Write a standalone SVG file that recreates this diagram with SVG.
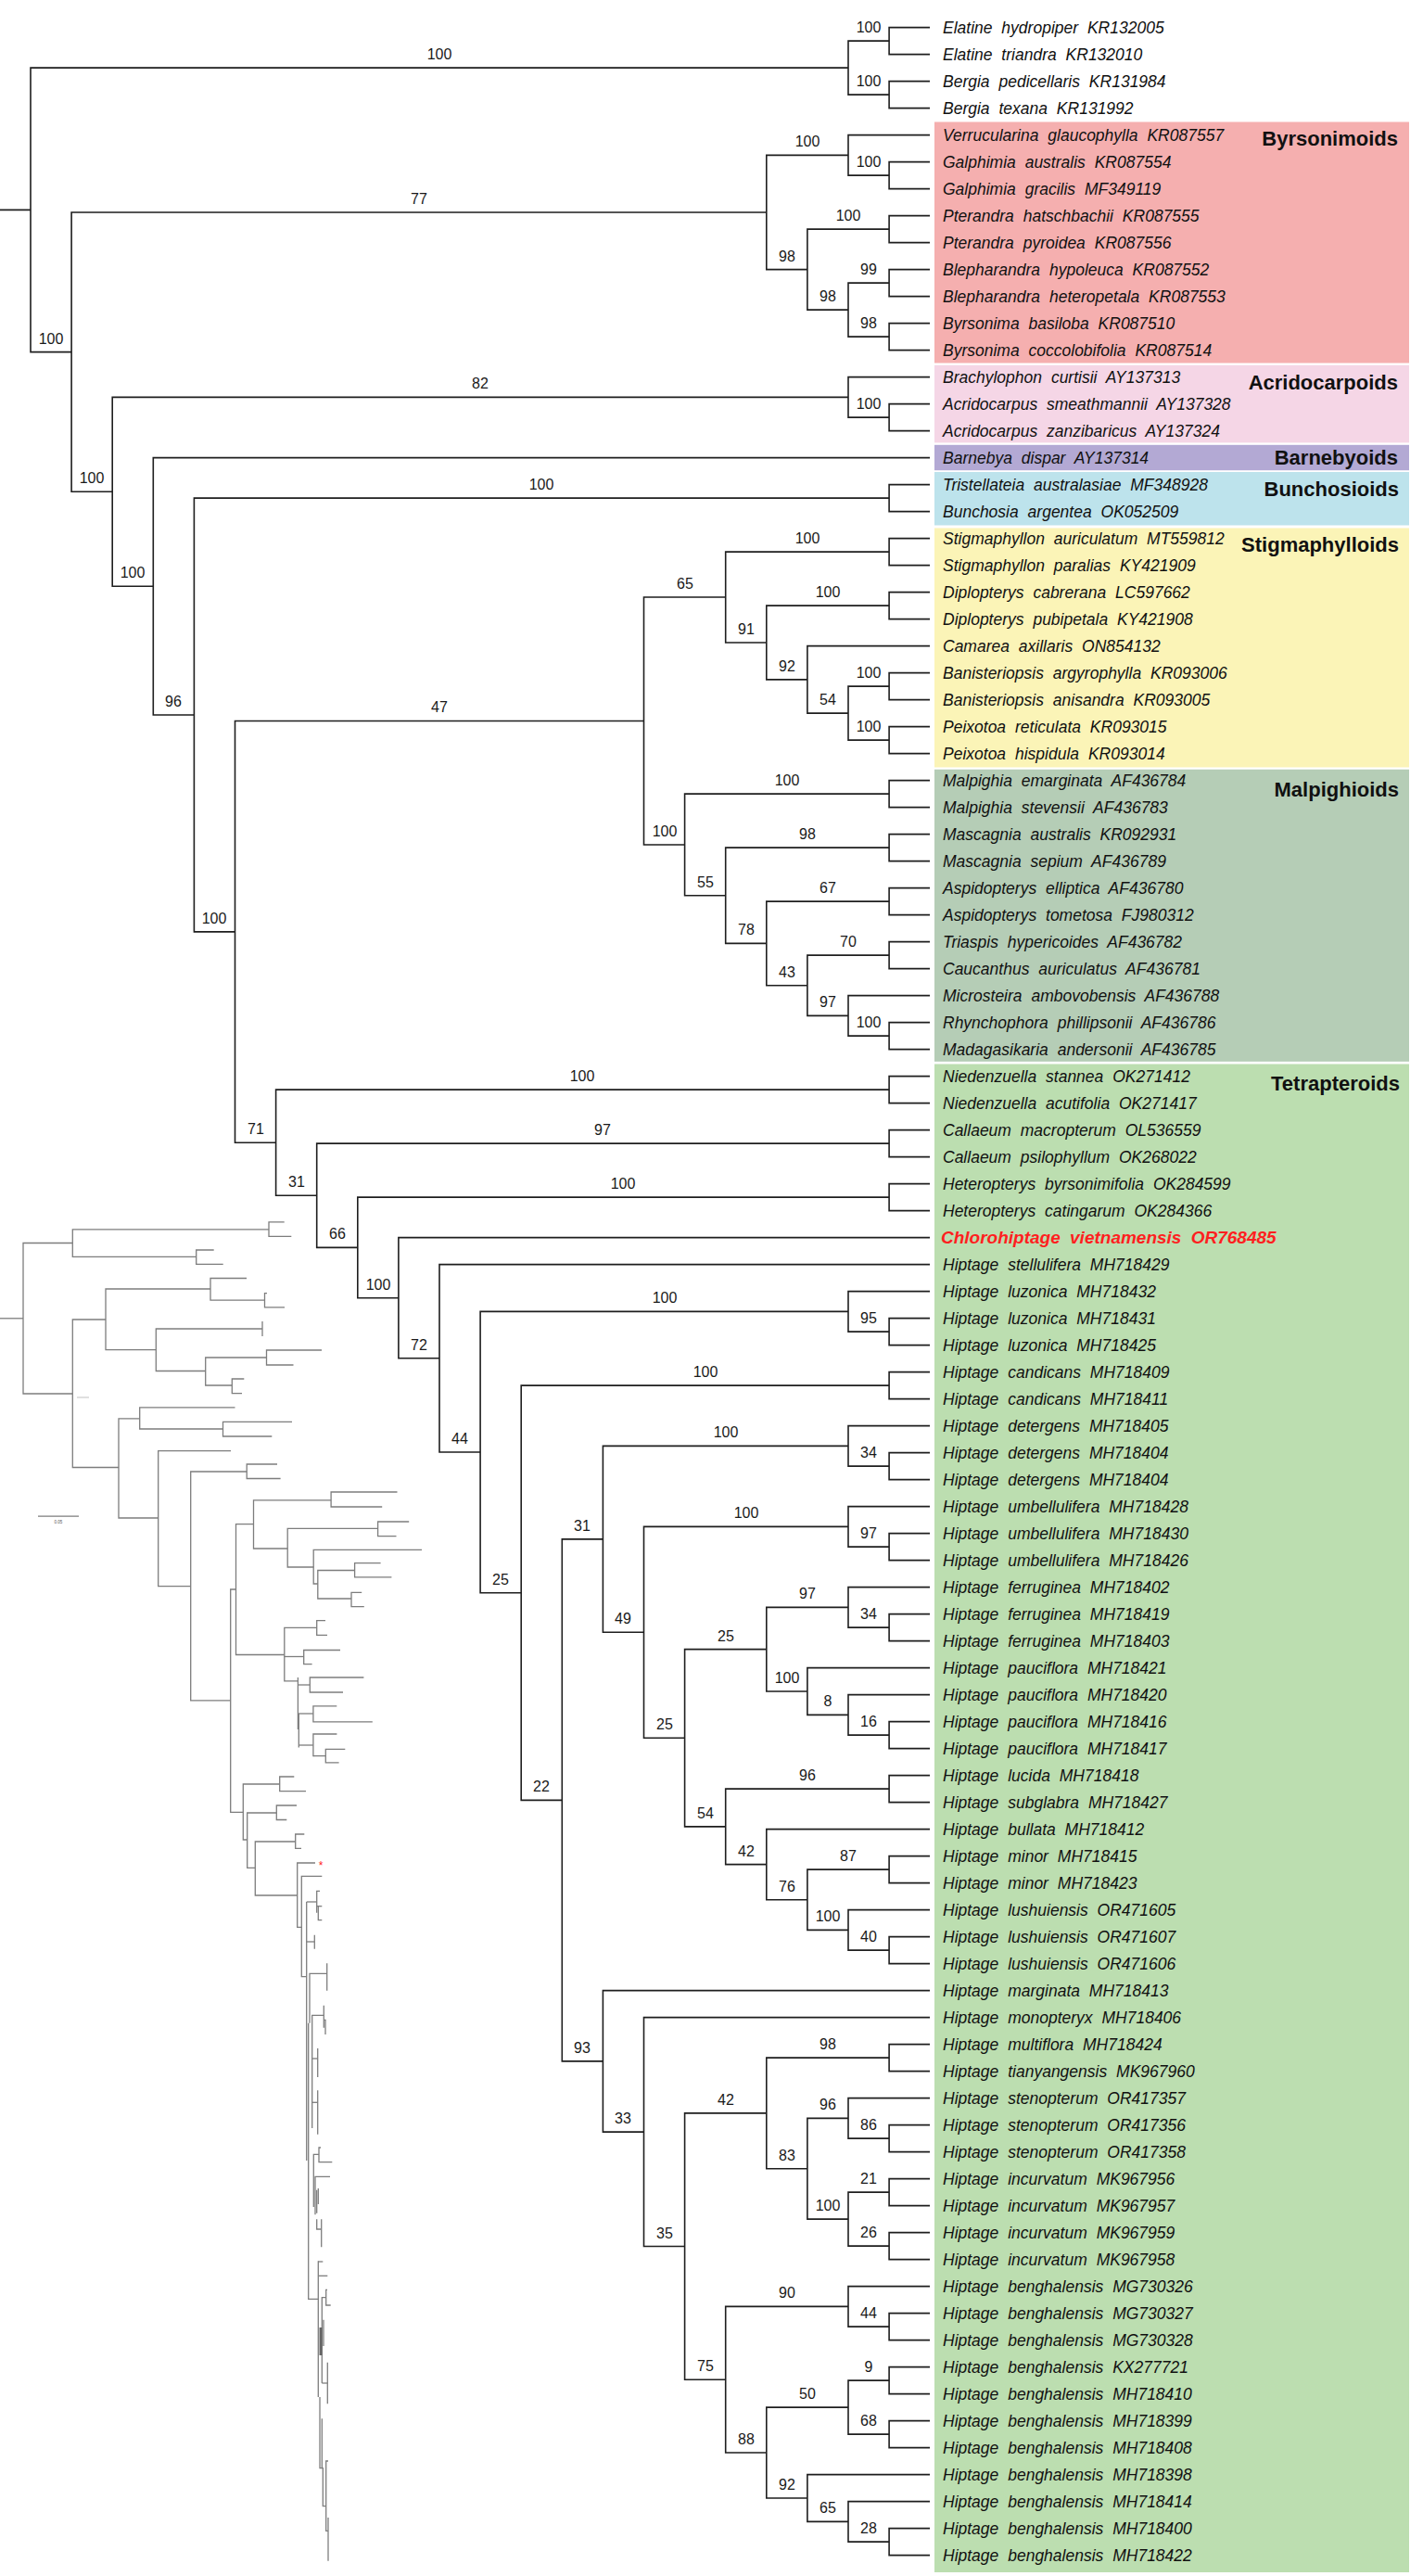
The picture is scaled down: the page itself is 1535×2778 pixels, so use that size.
<svg xmlns="http://www.w3.org/2000/svg" width="1535" height="2778" viewBox="0 0 1535 2778">
<style>
.e{fill:none;stroke:#1e1e1e;stroke-width:1.6}
.i{fill:none;stroke:#7d7d7d;stroke-width:1.3}
.s{font-family:"Liberation Sans",Arial,sans-serif;font-size:16px;fill:#1a1a1a;text-anchor:middle}
.lf{font-family:"Liberation Sans",Arial,sans-serif;font-size:17.5px;font-style:italic;fill:#111;word-spacing:5px}
.cl{font-family:"Liberation Sans",Arial,sans-serif;font-size:22px;font-weight:bold;fill:#111;text-anchor:end}
</style>
<rect width="1535" height="2778" fill="#ffffff"/>
<g id="clade-boxes">
<rect id="box-byrsonimoids" x="1008" y="131.5" width="512" height="260" fill="#f5afaf"/>
<rect id="box-acridocarpoids" x="1008" y="393.8" width="512" height="83.6" fill="#f5d6e6"/>
<rect id="box-barnebyoids" x="1008" y="479.8" width="512" height="27.4" fill="#b3a9d4"/>
<rect id="box-bunchosioids" x="1008" y="509" width="512" height="57.5" fill="#bde3ec"/>
<rect id="box-stigmaphylloids" x="1008" y="569.5" width="512" height="258" fill="#fbf4b7"/>
<rect id="box-malpighioids" x="1008" y="829.8" width="512" height="315" fill="#b5cdb6"/>
<rect id="box-tetrapteroids" x="1008" y="1147.5" width="512" height="1626.5" fill="#bcdeb0"/>
</g>
<g id="clade-titles">
<text class="cl" x="1508" y="157">Byrsonimoids</text>
<text class="cl" x="1508" y="420">Acridocarpoids</text>
<text class="cl" x="1508" y="500.5">Barnebyoids</text>
<text class="cl" x="1509" y="535">Bunchosioids</text>
<text class="cl" x="1509" y="594.5">Stigmaphylloids</text>
<text class="cl" x="1509" y="859">Malpighioids</text>
<text class="cl" x="1510" y="1176">Tetrapteroids</text>
</g>
<g transform="translate(0,0.6)">
<g id="connectors" class="e">
<path d="M0,225.77H33"/>
<path d="M915,72.5H33V379.05H77.1"/>
<path d="M959.1,43.5H915V101.5H959.1"/>
<path d="M1003,29H959.1V58H1003"/>
<path d="M1003,87H959.1V116H1003"/>
<path d="M826.8,228.38H77.1V529.72H121.2"/>
<path d="M915,166.75H826.8V290H870.9"/>
<path d="M1003,145H915V188.5H959.1"/>
<path d="M1003,174H959.1V203H1003"/>
<path d="M959.1,246.5H870.9V333.5H915"/>
<path d="M1003,232H959.1V261H1003"/>
<path d="M959.1,304.5H915V362.5H959.1"/>
<path d="M1003,290H959.1V319H1003"/>
<path d="M1003,348H959.1V377H1003"/>
<path d="M915,427.75H121.2V631.68H165.3"/>
<path d="M1003,406H915V449.5H959.1"/>
<path d="M1003,435H959.1V464H1003"/>
<path d="M1003,493H165.3V770.37H209.4"/>
<path d="M959.1,536.5H209.4V1004.23H253.5"/>
<path d="M1003,522H959.1V551H1003"/>
<path d="M694.5,776.88H253.5V1231.58H297.6"/>
<path d="M782.7,643.44H694.5V910.33H738.6"/>
<path d="M959.1,594.5H782.7V692.38H826.8"/>
<path d="M1003,580H959.1V609H1003"/>
<path d="M959.1,652.5H826.8V732.25H870.9"/>
<path d="M1003,638H959.1V667H1003"/>
<path d="M1003,696H870.9V768.5H915"/>
<path d="M959.1,739.5H915V797.5H959.1"/>
<path d="M1003,725H959.1V754H1003"/>
<path d="M1003,783H959.1V812H1003"/>
<path d="M959.1,855.5H738.6V965.16H782.7"/>
<path d="M1003,841H959.1V870H1003"/>
<path d="M959.1,913.5H782.7V1016.81H826.8"/>
<path d="M1003,899H959.1V928H1003"/>
<path d="M959.1,971.5H826.8V1062.13H870.9"/>
<path d="M1003,957H959.1V986H1003"/>
<path d="M959.1,1029.5H870.9V1094.75H915"/>
<path d="M1003,1015H959.1V1044H1003"/>
<path d="M1003,1073H915V1116.5H959.1"/>
<path d="M1003,1102H959.1V1131H1003"/>
<path d="M959.1,1174.5H297.6V1288.65H341.7"/>
<path d="M1003,1160H959.1V1189H1003"/>
<path d="M959.1,1232.5H341.7V1344.8H385.8"/>
<path d="M1003,1218H959.1V1247H1003"/>
<path d="M959.1,1290.5H385.8V1399.11H429.9"/>
<path d="M1003,1276H959.1V1305H1003"/>
<path d="M1003,1334H429.9V1464.22H474"/>
<path d="M1003,1363H474V1565.43H518.1"/>
<path d="M915,1413.75H518.1V1717.12H562.2"/>
<path d="M1003,1392H915V1435.5H959.1"/>
<path d="M1003,1421H959.1V1450H1003"/>
<path d="M959.1,1493.5H562.2V1940.73H606.3"/>
<path d="M1003,1479H959.1V1508H1003"/>
<path d="M650.4,1659.23H606.3V2222.24H650.4"/>
<path d="M915,1558.75H650.4V1759.71H694.5"/>
<path d="M1003,1537H915V1580.5H959.1"/>
<path d="M1003,1566H959.1V1595H1003"/>
<path d="M915,1645.75H694.5V1873.67H738.6"/>
<path d="M1003,1624H915V1667.5H959.1"/>
<path d="M1003,1653H959.1V1682H1003"/>
<path d="M826.8,1778.06H738.6V1969.28H782.7"/>
<path d="M915,1732.75H826.8V1823.38H870.9"/>
<path d="M1003,1711H915V1754.5H959.1"/>
<path d="M1003,1740H959.1V1769H1003"/>
<path d="M1003,1798H870.9V1848.75H915"/>
<path d="M1003,1827H915V1870.5H959.1"/>
<path d="M1003,1856H959.1V1885H1003"/>
<path d="M959.1,1928.5H782.7V2010.06H826.8"/>
<path d="M1003,1914H959.1V1943H1003"/>
<path d="M1003,1972H826.8V2048.13H870.9"/>
<path d="M959.1,2015.5H870.9V2080.75H915"/>
<path d="M1003,2001H959.1V2030H1003"/>
<path d="M1003,2059H915V2102.5H959.1"/>
<path d="M1003,2088H959.1V2117H1003"/>
<path d="M1003,2146H650.4V2298.48H694.5"/>
<path d="M1003,2175H694.5V2421.95H738.6"/>
<path d="M826.8,2278.31H738.6V2565.59H782.7"/>
<path d="M959.1,2218.5H826.8V2338.13H870.9"/>
<path d="M1003,2204H959.1V2233H1003"/>
<path d="M915,2283.75H870.9V2392.5H915"/>
<path d="M1003,2262H915V2305.5H959.1"/>
<path d="M1003,2291H959.1V2320H1003"/>
<path d="M959.1,2363.5H915V2421.5H959.1"/>
<path d="M1003,2349H959.1V2378H1003"/>
<path d="M1003,2407H959.1V2436H1003"/>
<path d="M915,2486.75H782.7V2644.44H826.8"/>
<path d="M1003,2465H915V2508.5H959.1"/>
<path d="M1003,2494H959.1V2523H1003"/>
<path d="M915,2595.5H826.8V2693.38H870.9"/>
<path d="M959.1,2566.5H915V2624.5H959.1"/>
<path d="M1003,2552H959.1V2581H1003"/>
<path d="M1003,2610H959.1V2639H1003"/>
<path d="M1003,2668H870.9V2718.75H915"/>
<path d="M1003,2697H915V2740.5H959.1"/>
<path d="M1003,2726H959.1V2755H1003"/>
</g>
<g id="support-values" class="s">
<text x="474" y="63.5">100</text>
<text x="937" y="34.5">100</text>
<text x="937" y="92.5">100</text>
<text x="55" y="370">100</text>
<text x="452" y="219.4">77</text>
<text x="871" y="157.8">100</text>
<text x="937" y="179.5">100</text>
<text x="849" y="281">98</text>
<text x="915" y="237.5">100</text>
<text x="893" y="324.5">98</text>
<text x="937" y="295.5">99</text>
<text x="937" y="353.5">98</text>
<text x="99" y="520.7">100</text>
<text x="518" y="418.8">82</text>
<text x="937" y="440.5">100</text>
<text x="143" y="622.7">100</text>
<text x="187" y="761.4">96</text>
<text x="584" y="527.5">100</text>
<text x="231" y="995.2">100</text>
<text x="474" y="767.9">47</text>
<text x="739" y="634.4">65</text>
<text x="871" y="585.5">100</text>
<text x="805" y="683.4">91</text>
<text x="893" y="643.5">100</text>
<text x="849" y="723.3">92</text>
<text x="893" y="759.5">54</text>
<text x="937" y="730.5">100</text>
<text x="937" y="788.5">100</text>
<text x="717" y="901.3">100</text>
<text x="849" y="846.5">100</text>
<text x="761" y="956.2">55</text>
<text x="871" y="904.5">98</text>
<text x="805" y="1007.8">78</text>
<text x="893" y="962.5">67</text>
<text x="849" y="1053.1">43</text>
<text x="915" y="1020.5">70</text>
<text x="893" y="1085.8">97</text>
<text x="937" y="1107.5">100</text>
<text x="276" y="1222.6">71</text>
<text x="628" y="1165.5">100</text>
<text x="320" y="1279.7">31</text>
<text x="650" y="1223.5">97</text>
<text x="364" y="1335.8">66</text>
<text x="672" y="1281.5">100</text>
<text x="408" y="1390.1">100</text>
<text x="452" y="1455.2">72</text>
<text x="496" y="1556.4">44</text>
<text x="717" y="1404.8">100</text>
<text x="937" y="1426.5">95</text>
<text x="540" y="1708.1">25</text>
<text x="761" y="1484.5">100</text>
<text x="584" y="1931.7">22</text>
<text x="628" y="1650.2">31</text>
<text x="783" y="1549.8">100</text>
<text x="937" y="1571.5">34</text>
<text x="672" y="1750.7">49</text>
<text x="805" y="1636.8">100</text>
<text x="937" y="1658.5">97</text>
<text x="717" y="1864.7">25</text>
<text x="783" y="1769.1">25</text>
<text x="871" y="1723.8">97</text>
<text x="937" y="1745.5">34</text>
<text x="849" y="1814.4">100</text>
<text x="893" y="1839.8">8</text>
<text x="937" y="1861.5">16</text>
<text x="761" y="1960.3">54</text>
<text x="871" y="1919.5">96</text>
<text x="805" y="2001.1">42</text>
<text x="849" y="2039.1">76</text>
<text x="915" y="2006.5">87</text>
<text x="893" y="2071.8">100</text>
<text x="937" y="2093.5">40</text>
<text x="628" y="2213.2">93</text>
<text x="672" y="2289.5">33</text>
<text x="717" y="2413">35</text>
<text x="783" y="2269.3">42</text>
<text x="893" y="2209.5">98</text>
<text x="849" y="2329.1">83</text>
<text x="893" y="2274.8">96</text>
<text x="937" y="2296.5">86</text>
<text x="893" y="2383.5">100</text>
<text x="937" y="2354.5">21</text>
<text x="937" y="2412.5">26</text>
<text x="761" y="2556.6">75</text>
<text x="849" y="2477.8">90</text>
<text x="937" y="2499.5">44</text>
<text x="805" y="2635.4">88</text>
<text x="871" y="2586.5">50</text>
<text x="937" y="2557.5">9</text>
<text x="937" y="2615.5">68</text>
<text x="849" y="2684.4">92</text>
<text x="893" y="2709.8">65</text>
<text x="937" y="2731.5">28</text>
</g>
<g id="taxa" class="lf">
<g id="outgroup">
<text x="1017" y="35">Elatine hydropiper KR132005</text>
<text x="1017" y="64">Elatine triandra KR132010</text>
<text x="1017" y="93">Bergia pedicellaris KR131984</text>
<text x="1017" y="122">Bergia texana KR131992</text>
</g>
<g id="byrsonimoids">
<text x="1017" y="151">Verrucularina glaucophylla KR087557</text>
<text x="1017" y="180">Galphimia australis KR087554</text>
<text x="1017" y="209">Galphimia gracilis MF349119</text>
<text x="1017" y="238">Pterandra hatschbachii KR087555</text>
<text x="1017" y="267">Pterandra pyroidea KR087556</text>
<text x="1017" y="296">Blepharandra hypoleuca KR087552</text>
<text x="1017" y="325">Blepharandra heteropetala KR087553</text>
<text x="1017" y="354">Byrsonima basiloba KR087510</text>
<text x="1017" y="383">Byrsonima coccolobifolia KR087514</text>
</g>
<g id="acridocarpoids">
<text x="1017" y="412">Brachylophon curtisii AY137313</text>
<text x="1017" y="441">Acridocarpus smeathmannii AY137328</text>
<text x="1017" y="470">Acridocarpus zanzibaricus AY137324</text>
</g>
<g id="barnebyoids">
<text x="1017" y="499">Barnebya dispar AY137314</text>
</g>
<g id="bunchosioids">
<text x="1017" y="528">Tristellateia australasiae MF348928</text>
<text x="1017" y="557">Bunchosia argentea OK052509</text>
</g>
<g id="stigmaphylloids">
<text x="1017" y="586">Stigmaphyllon auriculatum MT559812</text>
<text x="1017" y="615">Stigmaphyllon paralias KY421909</text>
<text x="1017" y="644">Diplopterys cabrerana LC597662</text>
<text x="1017" y="673">Diplopterys pubipetala KY421908</text>
<text x="1017" y="702">Camarea axillaris ON854132</text>
<text x="1017" y="731">Banisteriopsis argyrophylla KR093006</text>
<text x="1017" y="760">Banisteriopsis anisandra KR093005</text>
<text x="1017" y="789">Peixotoa reticulata KR093015</text>
<text x="1017" y="818">Peixotoa hispidula KR093014</text>
</g>
<g id="malpighioids">
<text x="1017" y="847">Malpighia emarginata AF436784</text>
<text x="1017" y="876">Malpighia stevensii AF436783</text>
<text x="1017" y="905">Mascagnia australis KR092931</text>
<text x="1017" y="934">Mascagnia sepium AF436789</text>
<text x="1017" y="963">Aspidopterys elliptica AF436780</text>
<text x="1017" y="992">Aspidopterys tometosa FJ980312</text>
<text x="1017" y="1021">Triaspis hypericoides AF436782</text>
<text x="1017" y="1050">Caucanthus auriculatus AF436781</text>
<text x="1017" y="1079">Microsteira ambovobensis AF436788</text>
<text x="1017" y="1108">Rhynchophora phillipsonii AF436786</text>
<text x="1017" y="1137">Madagasikaria andersonii AF436785</text>
</g>
<g id="tetrapteroids">
<text x="1017" y="1166">Niedenzuella stannea OK271412</text>
<text x="1017" y="1195">Niedenzuella acutifolia OK271417</text>
<text x="1017" y="1224">Callaeum macropterum OL536559</text>
<text x="1017" y="1253">Callaeum psilophyllum OK268022</text>
<text x="1017" y="1282">Heteropterys byrsonimifolia OK284599</text>
<text x="1017" y="1311">Heteropterys catingarum OK284366</text>
<text id="new-species" x="1015" y="1340.5" style="font-weight:bold;font-size:19px;fill:#ff1f1f">Chlorohiptage vietnamensis OR768485</text>
<text x="1017" y="1369">Hiptage stellulifera MH718429</text>
<text x="1017" y="1398">Hiptage luzonica MH718432</text>
<text x="1017" y="1427">Hiptage luzonica MH718431</text>
<text x="1017" y="1456">Hiptage luzonica MH718425</text>
<text x="1017" y="1485">Hiptage candicans MH718409</text>
<text x="1017" y="1514">Hiptage candicans MH718411</text>
<text x="1017" y="1543">Hiptage detergens MH718405</text>
<text x="1017" y="1572">Hiptage detergens MH718404</text>
<text x="1017" y="1601">Hiptage detergens MH718404</text>
<text x="1017" y="1630">Hiptage umbellulifera MH718428</text>
<text x="1017" y="1659">Hiptage umbellulifera MH718430</text>
<text x="1017" y="1688">Hiptage umbellulifera MH718426</text>
<text x="1017" y="1717">Hiptage ferruginea MH718402</text>
<text x="1017" y="1746">Hiptage ferruginea MH718419</text>
<text x="1017" y="1775">Hiptage ferruginea MH718403</text>
<text x="1017" y="1804">Hiptage pauciflora MH718421</text>
<text x="1017" y="1833">Hiptage pauciflora MH718420</text>
<text x="1017" y="1862">Hiptage pauciflora MH718416</text>
<text x="1017" y="1891">Hiptage pauciflora MH718417</text>
<text x="1017" y="1920">Hiptage lucida MH718418</text>
<text x="1017" y="1949">Hiptage subglabra MH718427</text>
<text x="1017" y="1978">Hiptage bullata MH718412</text>
<text x="1017" y="2007">Hiptage minor MH718415</text>
<text x="1017" y="2036">Hiptage minor MH718423</text>
<text x="1017" y="2065">Hiptage lushuiensis OR471605</text>
<text x="1017" y="2094">Hiptage lushuiensis OR471607</text>
<text x="1017" y="2123">Hiptage lushuiensis OR471606</text>
<text x="1017" y="2152">Hiptage marginata MH718413</text>
<text x="1017" y="2181">Hiptage monopteryx MH718406</text>
<text x="1017" y="2210">Hiptage multiflora MH718424</text>
<text x="1017" y="2239">Hiptage tianyangensis MK967960</text>
<text x="1017" y="2268">Hiptage stenopterum OR417357</text>
<text x="1017" y="2297">Hiptage stenopterum OR417356</text>
<text x="1017" y="2326">Hiptage stenopterum OR417358</text>
<text x="1017" y="2355">Hiptage incurvatum MK967956</text>
<text x="1017" y="2384">Hiptage incurvatum MK967957</text>
<text x="1017" y="2413">Hiptage incurvatum MK967959</text>
<text x="1017" y="2442">Hiptage incurvatum MK967958</text>
<text x="1017" y="2471">Hiptage benghalensis MG730326</text>
<text x="1017" y="2500">Hiptage benghalensis MG730327</text>
<text x="1017" y="2529">Hiptage benghalensis MG730328</text>
<text x="1017" y="2558">Hiptage benghalensis KX277721</text>
<text x="1017" y="2587">Hiptage benghalensis MH718410</text>
<text x="1017" y="2616">Hiptage benghalensis MH718399</text>
<text x="1017" y="2645">Hiptage benghalensis MH718408</text>
<text x="1017" y="2674">Hiptage benghalensis MH718398</text>
<text x="1017" y="2703">Hiptage benghalensis MH718414</text>
<text x="1017" y="2732">Hiptage benghalensis MH718400</text>
<text x="1017" y="2761">Hiptage benghalensis MH718422</text>
</g>
</g>
</g>
<g id="inset-phylogram" class="i">
<path d="M0,1421.8H25"/>
<path d="M78.3,1340.5H25V1503H78.3"/>
<path d="M290,1325.8H78.3V1355.3H211.7"/>
<path d="M306.7,1317.8H290V1333.4H314.3"/>
<path d="M230.7,1348H211.7V1363.3H240.7"/>
<path d="M114,1423H78.3V1582.5H128"/>
<path d="M227,1390H114V1455.7H168.3"/>
<path d="M266,1378.5H227V1402.1H285.5"/>
<path d="M288,1394.6H285.5V1409.8H307"/>
<path d="M283,1433H168.3V1478.5H221.7"/>
<path d="M283,1425V1441"/>
<path d="M287.5,1464H221.7V1494H250.3"/>
<path d="M347,1456H287.5V1472H316.5"/>
<path d="M263.3,1487H250.3V1502.6H261"/>
<path d="M150.7,1529.8H128V1637H170.7"/>
<path d="M253.5,1517.8H150.7V1541H240.5"/>
<path d="M315,1533.4H240.5V1549H293.3"/>
<path d="M249,1564.6H170.7V1710.6H205.7"/>
<path d="M266.2,1587H205.7V1833.8H248.7"/>
<path d="M299,1579H266.2V1594.5H302.6"/>
<path d="M254.5,1714H248.7V1954.3H262.3"/>
<path d="M273.5,1643.7H254.5V1784.5H306.8"/>
<path d="M357.1,1617.8H273.5V1670H310.2"/>
<path d="M428.5,1609H357.1V1625H412.2"/>
<path d="M407.6,1648.4H310.2V1690H338.2"/>
<path d="M441.2,1641H407.6V1656.7H427.5"/>
<path d="M455,1671.4H338.2V1708H342.8"/>
<path d="M382.6,1693.5H342.8V1724H379"/>
<path d="M410.6,1685.7H382.6V1700.9H422.4"/>
<path d="M390.2,1717.4H379V1732.6H392.8"/>
<path d="M341.7,1755.3H306.8V1812.8H321.4"/>
<path d="M351,1747.6H341.7V1763.3H353"/>
<path d="M306.8,1786.5H327.7"/>
<path d="M367,1779.5H327.7V1794.6H336.6"/>
<path d="M321.4,1809V1865"/>
<path d="M392.4,1809H334.3V1825H370"/>
<path d="M321.4,1817H334.3"/>
<path d="M363.3,1839.8H337.9V1856.9H401.8"/>
<path d="M321.4,1848H337.9"/>
<path d="M322.3,1848V1884.4"/>
<path d="M322.3,1882H337.9"/>
<path d="M363.4,1870H337.9V1894.2"/>
<path d="M337.9,1893.6H351.3"/>
<path d="M372.3,1886.4H351.3V1900.8H365.6"/>
<path d="M301.7,1924H262.3V1984H266.7"/>
<path d="M317.3,1916H301.7V1931.6H330"/>
<path d="M298.3,1955H266.7V2014.4H275.3"/>
<path d="M320,1947H298.3V1962.5H309.3"/>
<path d="M318.7,1986H275.3V2044H320.7"/>
<path d="M328.3,1978H318.7V1993.3H325"/>
<path d="M340,2009H320.7V2078.3H325.3"/>
<path d="M347.3,2023.3H325.3V2131.7H330.7"/>
<path d="M330.7,2051V2330"/>
<path d="M332.7,2181.7V2479.3H343.3"/>
<path d="M345,2039.3H341.7V2062.7"/>
<path d="M330.7,2051H341.7"/>
<path d="M341.7,2055.7H347.3"/>
<path d="M343.3,2055.7V2070.7H347.3"/>
<path d="M330.7,2094H339.3"/>
<path d="M339.3,2086.7V2101.7"/>
<path d="M334,2181.7V2128.3H352.7"/>
<path d="M352.7,2117.3V2146.7"/>
<path d="M336.7,2295V2173.3H349.3"/>
<path d="M349.3,2162.7V2186.7"/>
<path d="M349.3,2178.3H351V2194"/>
<path d="M336.7,2220H342.7"/>
<path d="M342.7,2209V2240"/>
<path d="M336.7,2267.3H342.7"/>
<path d="M342.7,2254.3V2301.7"/>
<path d="M338.3,2380V2323.3H344"/>
<path d="M346,2316H344V2331.7H358.3"/>
<path d="M356,2347.3H340V2388.3"/>
<path d="M341.7,2361.7V2386.7"/>
<path d="M343.3,2360V2377"/>
<path d="M341.7,2393.3V2404H346.7"/>
<path d="M346.7,2393.3V2423.3"/>
<path d="M343.3,2438.3V2585"/>
<path d="M343.3,2439H348.3"/>
<path d="M343.3,2454.3H353.3"/>
<path d="M347.3,2570V2477.7H351.7"/>
<path d="M353,2469.3H351.7V2486H356.7"/>
<path d="M346,2510V2540" style="stroke-width:3;stroke:#666"/>
<path d="M349,2501.7V2530"/>
<path d="M347.3,2570H353.3"/>
<path d="M353.3,2547.7V2592.3"/>
<path d="M345,2585V2661.7H348.3V2702.7H351.7"/>
<path d="M347.3,2608.3V2661.7"/>
<path d="M354,2654H351.7V2729.3H354"/>
<path d="M354,2715V2761.7"/>
<path d="M83,1507H96" style="stroke:#cfcfcf"/>
<path d="M41,1635.2H85"/>
</g>
<text x="63" y="1643" style="font-family:'Liberation Sans',Arial,sans-serif;font-size:4.5px;fill:#555;text-anchor:middle">0.05</text>
<text x="346" y="2016" style="font-family:'Liberation Sans',Arial,sans-serif;font-size:12px;fill:#ff2020;text-anchor:middle">*</text>
</svg>
